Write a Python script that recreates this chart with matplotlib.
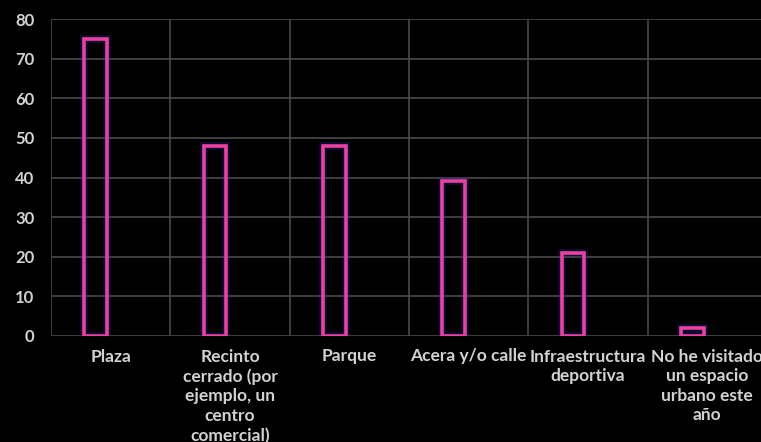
import matplotlib
matplotlib.use('Agg')
import matplotlib.pyplot as plt
import numpy as np

categorias = ['Plaza', 'Recinto\ncerrado (por\nejemplo, un\ncentro\ncomercial)', 'Parque',
              'Acera y/o calle', 'Infraestructura\ndeportiva',
              'No he visitado\nun espacio\nurbano este\naño']
valores = [75, 48, 48, 39, 21, 2]
y_ticks = [0, 10, 20, 30, 40, 50, 60, 70, 80]

plt.rcParams['font.family'] = ['Lato', 'DejaVu Sans']

fig = plt.figure(figsize=(7.61, 4.42), dpi=100, facecolor='black')
ax = fig.add_axes([51 / 761, 106 / 442, 716 / 761, 317 / 442])
ax.set_facecolor('black')

x = np.arange(len(categorias))
# resplandor azul suave detrás de la barra
ax.bar(x - 0.125, valores, width=0.19, facecolor='none',
       edgecolor='#1c2c90', linewidth=5.5, alpha=0.35, zorder=2)
ax.bar(x - 0.125, valores, width=0.19, facecolor='none',
       edgecolor='#ee3fa0', linewidth=2.6, zorder=3)

ax.set_xlim(-0.5, len(categorias) - 0.5)
ax.set_ylim(0, 80)
ax.set_yticks(y_ticks)
ax.set_xticks(x)
ax.set_xticklabels(categorias, linespacing=1.28)
ax.set_xticks(np.arange(len(categorias)) + 0.5, minor=True)

ax.grid(axis='y', color='#4a4a4a', linewidth=1.2)
ax.grid(axis='x', which='minor', color='#4a4a4a', linewidth=1.2)
ax.set_axisbelow(True)

for s in ax.spines.values():
    s.set_visible(False)
ax.axvline(-0.5, color='#4a4a4a', linewidth=1.2)

ax.tick_params(axis='both', which='both', length=0, colors='#d2d2d2')
for lab in ax.get_yticklabels():
    lab.set_fontsize(12)
    lab.set_fontweight('bold')
for lab in ax.get_xticklabels():
    lab.set_fontsize(12.5)
    lab.set_fontweight('bold')
ax.tick_params(axis='y', pad=12)
ax.tick_params(axis='x', pad=9)

fig.savefig('out.png', dpi=100, facecolor='black')
